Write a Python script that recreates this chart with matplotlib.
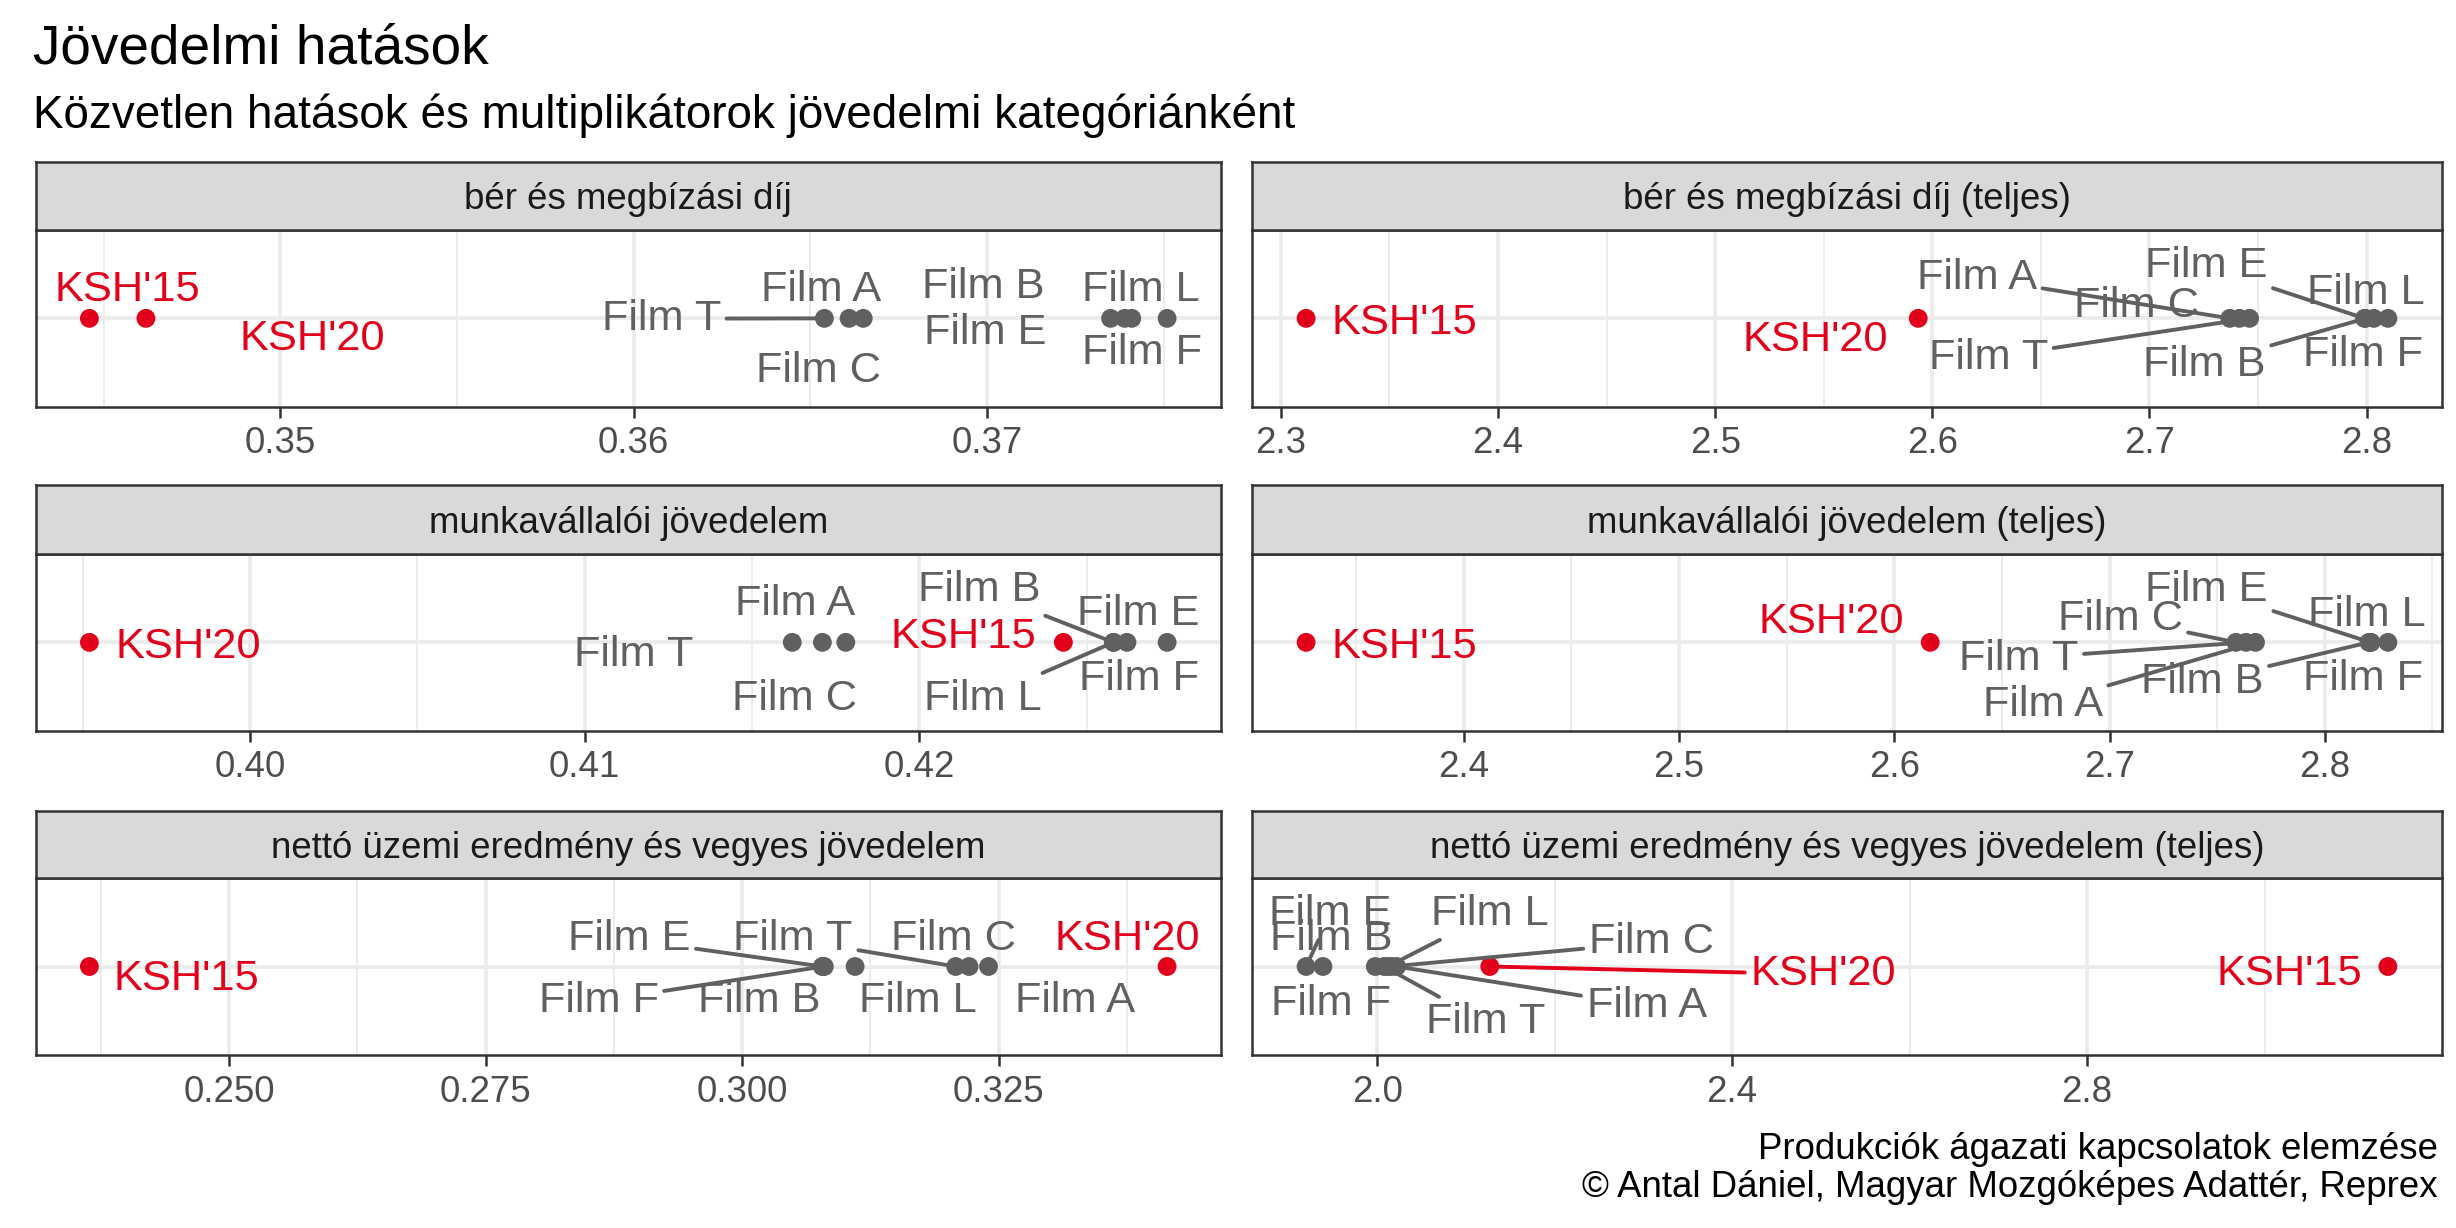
import matplotlib
matplotlib.use("Agg")
import matplotlib.pyplot as plt
import numpy as np

plt.rcParams['font.family'] = ['Liberation Sans', 'DejaVu Sans']

# --- data ---------------------------------------------------------------
title = "Jövedelmi hatások"
subtitle = "Közvetlen hatások és multiplikátorok jövedelmi kategóriánként"
caption = "Produkciók ágazati kapcsolatok elemzése\n© Antal Dániel, Magyar Mozgóképes Adattér, Reprex"

panels = ["bér és megbízási díj", "bér és megbízási díj (teljes)",
          "munkavállalói jövedelem", "munkavállalói jövedelem (teljes)",
          "nettó üzemi eredmény és vegyes jövedelem",
          "nettó üzemi eredmény és vegyes jövedelem (teljes)"]

names = ["KSH'15", "KSH'20", "Film A", "Film B", "Film C", "Film E", "Film F", "Film L", "Film T"]

ber = [0.3446, 0.3462, 0.3661, 0.3735, 0.3665, 0.3739, 0.3751, 0.3741, 0.3654]
ber_teljes = [2.3116, 2.5935, 2.7370, 2.7995, 2.7414, 2.7990, 2.8098, 2.8033, 2.7461]
munka = [0.4243, 0.3952, 0.4162, 0.4258, 0.4171, 0.4262, 0.4274, 0.4258, 0.4178]
munka_teljes = [2.3268, 2.6167, 2.7678, 2.8205, 2.7587, 2.8212, 2.8293, 2.8215, 2.7634]
netto = [0.2364, 0.3414, 0.3240, 0.3080, 0.3221, 0.3078, 0.3079, 0.3110, 0.3208]
netto_teljes = [3.139, 2.127, 2.022, 1.939, 2.016, 1.920, 1.998, 2.012, 2.008]

values = [ber, ber_teljes, munka, munka_teljes, netto, netto_teljes]

ticks = [[0.35, 0.36, 0.37],
         [2.3, 2.4, 2.5, 2.6, 2.7, 2.8],
         [0.40, 0.41, 0.42],
         [2.4, 2.5, 2.6, 2.7, 2.8],
         [0.250, 0.275, 0.300, 0.325],
         [2.0, 2.4, 2.8]]
tick_labels = [["0.35", "0.36", "0.37"],
               ["2.3", "2.4", "2.5", "2.6", "2.7", "2.8"],
               ["0.40", "0.41", "0.42"],
               ["2.4", "2.5", "2.6", "2.7", "2.8"],
               ["0.250", "0.275", "0.300", "0.325"],
               ["2.0", "2.4", "2.8"]]

# label placement (offset points from the point, draw segment or not)
offsets = [
    {"KSH'15": (13.6, 11.7, 0), "KSH'20": (60, -5.7, 0), "Film T": (-58.7, 1.5, 1),
     "Film A": (-10, 11.7, 0), "Film C": (-16.2, -17.5, 0), "Film B": (-46, 13, 0),
     "Film E": (-50.3, -3.5, 0), "Film L": (3.4, 11.7, 0), "Film F": (-9, -11, 0)},
    {"KSH'15": (35.5, 0, 0), "KSH'20": (-37, -6, 0), "Film A": (-91, 16.2, 1),
     "Film C": (-36.9, 6, 0), "Film T": (-94, -12.6, 1), "Film E": (-57, 20.4, 1),
     "Film B": (-58, -15, 1), "Film L": (-2.8, 10.8, 0), "Film F": (-8.9, -11.4, 0)},
    {"KSH'20": (35.5, 0, 0), "Film A": (0.9, 15.6, 0), "Film C": (-10, -18.6, 0),
     "Film T": (-76.5, -3, 0), "KSH'15": (-36, 3.6, 0), "Film B": (-48.2, 20.4, 1),
     "Film L": (-46.9, -18.6, 1), "Film E": (4, 12, 0), "Film F": (-10, -11.4, 0)},
    {"KSH'15": (35.5, 0, 0), "KSH'20": (-35.5, 9, 0), "Film C": (-41.7, 10.2, 1),
     "Film T": (-81.8, -4.2, 1), "Film A": (-76.6, -20.8, 1), "Film B": (-60, -12.6, 1),
     "Film E": (-59, 20.6, 1), "Film L": (-1.4, 11.4, 0), "Film F": (-8.9, -11.4, 0)},
    {"KSH'15": (35, -3, 0), "KSH'20": (-14.2, 11.4, 0), "Film E": (-69.5, 11.4, 1),
     "Film F": (-80.9, -10.8, 1), "Film T": (-58.5, 11.4, 1), "Film B": (-23.5, -10.8, 0),
     "Film L": (22.7, -10.8, 0), "Film C": (-5.6, 11.4, 0), "Film A": (31.2, -10.8, 0)},
    {"KSH'15": (-35.5, -1.2, 0), "KSH'20": (120, -1.2, 1), "Film E": (8.8, 20.4, 1),
     "Film B": (2.9, 11.4, 0), "Film F": (-16, -12, 0), "Film L": (36.8, 20.4, 1),
     "Film T": (36.4, -18.5, 1), "Film C": (93.6, 10.3, 1), "Film A": (90, -12.6, 1)},
]

RED = "#E2001A"
GREY = "#606060"

# --- layout (pixels of the 2456x1228 output) -----------------------------
W, H = 2456, 1228
cols = [(35.5, 1221), (1252, 2442)]
rows = [(161.7, 230, 406.7), (485, 554, 730.7), (810.7, 878, 1055)]

fig = plt.figure(figsize=(W / 200, H / 200), dpi=200)

for i, (name, vals) in enumerate(zip(panels, values)):
    r, c = divmod(i, 2)
    x0, x1 = cols[c]
    s0, s1, p1 = rows[r]
    ax = fig.add_axes([x0 / W, 1 - p1 / H, (x1 - x0) / W, (p1 - s1) / H])
    sax = fig.add_axes([x0 / W, 1 - s1 / H, (x1 - x0) / W, (s1 - s0) / H])

    # strip
    sax.set_facecolor("#D9D9D9")
    sax.set_xticks([])
    sax.set_yticks([])
    for sp in sax.spines.values():
        sp.set_color("#333333")
        sp.set_linewidth(0.9)
    sax.text(0.5, 0.5, name, ha="center", va="center_baseline", fontsize=13.2,
             color="#1A1A1A", transform=sax.transAxes)

    colors = [RED if n.startswith("KSH") else GREY for n in names]
    ax.scatter(vals, np.zeros(len(vals)), s=46, c=colors, linewidths=0, zorder=3)

    t = ticks[i]
    step = t[1] - t[0]
    ax.set_xticks(t)
    ax.set_xticklabels(tick_labels[i])
    ax.set_xticks(np.arange(t[0] - step / 2, t[-1] + step, step), minor=True)
    ax.set_yticks([0])

    # limits after ticks, so the minor ticks do not widen the view
    lo, hi = min(vals), max(vals)
    pad = 0.05 * (hi - lo)
    ax.set_xlim(lo - pad, hi + pad)
    ax.set_ylim(-0.6, 0.6)

    ax.set_axisbelow(True)
    ax.grid(which="major", color="#EBEBEB", lw=1.3)
    ax.grid(which="minor", axis="x", color="#EBEBEB", lw=0.65)
    ax.tick_params(axis="x", which="major", length=4.1, width=0.9, color="#333333",
                   labelsize=13.2, labelcolor="#4D4D4D", pad=3)
    ax.tick_params(axis="x", which="minor", length=0)
    ax.tick_params(axis="y", length=0, labelleft=False)
    for sp in ax.spines.values():
        sp.set_color("#333333")
        sp.set_linewidth(0.9)

    for n, v, col in zip(names, vals, colors):
        dx, dy, seg = offsets[i][n]
        arrow = dict(arrowstyle="-", color=col, lw=1.4, shrinkA=0, shrinkB=2.5) if seg else None
        ax.annotate(n, (v, 0), xytext=(dx, dy), textcoords="offset points",
                    ha="center", va="center_baseline", fontsize=15.6, color=col,
                    arrowprops=arrow, zorder=4)

fig.text(33 / W, 1 - 63 / H, title, fontsize=19.8, ha="left", va="baseline")
fig.text(33 / W, 1 - 128 / H, subtitle, fontsize=16.5, ha="left", va="baseline")
for k, line in enumerate(caption.split("\n")):
    fig.text(2438 / W, 1 - (1159 + 38 * k) / H, line, fontsize=13.2,
             ha="right", va="baseline")

fig.savefig("out.png", dpi=200)
